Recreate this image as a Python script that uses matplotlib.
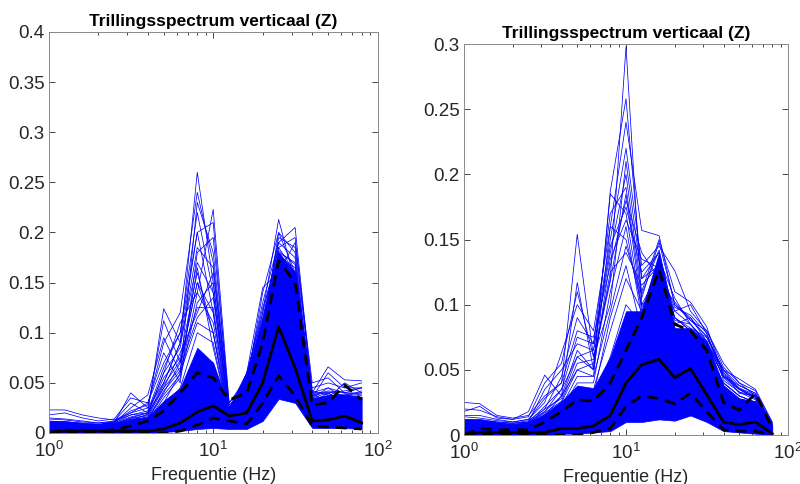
import matplotlib
matplotlib.use('Agg')
import matplotlib.pyplot as plt
from matplotlib.ticker import LogLocator, NullFormatter

plt.rcParams['font.family'] = ['Liberation Sans', 'DejaVu Sans']

# third-octave band centre frequencies (Hz)
freqs = [1, 1.25, 1.6, 2, 2.5, 3.15, 4, 5, 6.3, 8, 10, 12.5, 16, 20, 25, 31.5, 40, 50, 63, 80]

# ---- left panel ----
left_core_low = [0.000, 0.000, 0.000, 0.000, 0.000, 0.000, 0.000, 0.001, 0.002, 0.004, 0.005, 0.004, 0.004, 0.012, 0.034, 0.030, 0.005, 0.005, 0.005, 0.004]
left_core_high = [0.012, 0.012, 0.010, 0.009, 0.010, 0.014, 0.016, 0.032, 0.045, 0.085, 0.070, 0.025, 0.060, 0.115, 0.180, 0.160, 0.035, 0.038, 0.038, 0.036]
left_traces = [
    [0.023, 0.023, 0.018, 0.015, 0.013, 0.020, 0.025, 0.050, 0.090, 0.260, 0.150, 0.020, 0.040, 0.080, 0.150, 0.120, 0.030, 0.035, 0.030, 0.030],
    [0.015, 0.014, 0.012, 0.010, 0.012, 0.018, 0.020, 0.060, 0.110, 0.140, 0.223, 0.030, 0.050, 0.100, 0.170, 0.140, 0.040, 0.030, 0.035, 0.035],
    [0.010, 0.010, 0.008, 0.008, 0.012, 0.030, 0.020, 0.124, 0.090, 0.200, 0.120, 0.015, 0.030, 0.090, 0.160, 0.150, 0.030, 0.040, 0.030, 0.030],
    [0.012, 0.011, 0.010, 0.009, 0.010, 0.040, 0.025, 0.112, 0.070, 0.150, 0.100, 0.020, 0.050, 0.110, 0.180, 0.170, 0.035, 0.045, 0.040, 0.040],
    [0.008, 0.008, 0.007, 0.007, 0.010, 0.025, 0.038, 0.095, 0.060, 0.230, 0.180, 0.025, 0.060, 0.120, 0.213, 0.150, 0.045, 0.050, 0.045, 0.045],
    [0.010, 0.009, 0.009, 0.008, 0.011, 0.020, 0.030, 0.080, 0.050, 0.180, 0.195, 0.030, 0.055, 0.130, 0.190, 0.205, 0.040, 0.066, 0.053, 0.052],
    [0.018, 0.020, 0.015, 0.012, 0.014, 0.035, 0.030, 0.070, 0.100, 0.220, 0.140, 0.022, 0.060, 0.145, 0.160, 0.190, 0.050, 0.055, 0.040, 0.045],
    [0.006, 0.006, 0.006, 0.006, 0.009, 0.015, 0.020, 0.045, 0.080, 0.120, 0.160, 0.028, 0.045, 0.100, 0.200, 0.180, 0.030, 0.035, 0.050, 0.040],
    [0.004, 0.004, 0.004, 0.005, 0.006, 0.010, 0.015, 0.030, 0.060, 0.110, 0.100, 0.012, 0.035, 0.060, 0.140, 0.130, 0.020, 0.025, 0.030, 0.030],
    [0.002, 0.002, 0.002, 0.002, 0.003, 0.004, 0.005, 0.010, 0.015, 0.030, 0.025, 0.004, 0.010, 0.020, 0.040, 0.035, 0.006, 0.008, 0.008, 0.010],
    [0.014, 0.013, 0.011, 0.010, 0.011, 0.022, 0.028, 0.090, 0.120, 0.240, 0.170, 0.025, 0.050, 0.140, 0.200, 0.160, 0.035, 0.060, 0.045, 0.050],
    [0.009, 0.009, 0.008, 0.008, 0.010, 0.018, 0.022, 0.065, 0.100, 0.200, 0.210, 0.022, 0.045, 0.120, 0.185, 0.195, 0.040, 0.040, 0.042, 0.045],
    [0.006, 0.006, 0.005, 0.005, 0.007, 0.012, 0.015, 0.040, 0.070, 0.150, 0.120, 0.018, 0.040, 0.090, 0.170, 0.150, 0.030, 0.030, 0.035, 0.030],
    [0.008, 0.007, 0.007, 0.006, 0.008, 0.014, 0.018, 0.050, 0.090, 0.170, 0.140, 0.020, 0.050, 0.100, 0.180, 0.160, 0.035, 0.040, 0.030, 0.035],
    [0.005, 0.005, 0.005, 0.005, 0.006, 0.010, 0.012, 0.035, 0.055, 0.130, 0.150, 0.024, 0.045, 0.110, 0.190, 0.175, 0.030, 0.035, 0.038, 0.040],
    [0.011, 0.010, 0.009, 0.008, 0.010, 0.016, 0.020, 0.055, 0.075, 0.160, 0.100, 0.016, 0.055, 0.125, 0.175, 0.165, 0.040, 0.045, 0.035, 0.030],
    [0.007, 0.007, 0.006, 0.006, 0.008, 0.013, 0.016, 0.045, 0.065, 0.115, 0.135, 0.020, 0.060, 0.115, 0.185, 0.160, 0.038, 0.042, 0.040, 0.038],
    [0.009, 0.008, 0.008, 0.007, 0.009, 0.012, 0.019, 0.060, 0.085, 0.185, 0.165, 0.026, 0.048, 0.105, 0.195, 0.185, 0.042, 0.038, 0.036, 0.042],
    [0.004, 0.004, 0.004, 0.004, 0.005, 0.008, 0.010, 0.025, 0.045, 0.100, 0.090, 0.014, 0.040, 0.095, 0.165, 0.140, 0.025, 0.030, 0.028, 0.025],
    [0.003, 0.003, 0.003, 0.003, 0.004, 0.006, 0.008, 0.020, 0.035, 0.080, 0.070, 0.010, 0.030, 0.080, 0.150, 0.125, 0.022, 0.022, 0.025, 0.022],
    [0.007, 0.006, 0.006, 0.006, 0.007, 0.011, 0.014, 0.038, 0.058, 0.140, 0.110, 0.017, 0.042, 0.098, 0.172, 0.155, 0.033, 0.034, 0.033, 0.032],
    [0.010, 0.009, 0.008, 0.008, 0.009, 0.015, 0.017, 0.048, 0.072, 0.125, 0.125, 0.021, 0.052, 0.112, 0.182, 0.168, 0.037, 0.041, 0.037, 0.037],
    [0.005, 0.005, 0.005, 0.005, 0.006, 0.009, 0.013, 0.042, 0.062, 0.165, 0.085, 0.015, 0.038, 0.092, 0.178, 0.158, 0.028, 0.036, 0.039, 0.034],
]
left_mean = [0.001, 0.002, 0.002, 0.002, 0.002, 0.002, 0.002, 0.004, 0.010, 0.021, 0.027, 0.017, 0.020, 0.050, 0.106, 0.065, 0.012, 0.013, 0.017, 0.010]
left_upper = [0.000, 0.003, 0.002, 0.002, 0.003, 0.007, 0.012, 0.022, 0.040, 0.060, 0.055, 0.033, 0.040, 0.090, 0.172, 0.150, 0.028, 0.030, 0.048, 0.033]
left_lower = [0.000, 0.000, 0.000, 0.000, 0.000, 0.000, 0.000, 0.000, 0.002, 0.008, 0.015, 0.012, 0.009, 0.030, 0.057, 0.037, 0.007, 0.006, 0.005, 0.004]

# ---- right panel ----
right_core_low = [0.000, 0.000, 0.000, 0.000, 0.000, 0.000, 0.001, 0.001, 0.002, 0.003, 0.010, 0.010, 0.012, 0.011, 0.015, 0.010, 0.003, 0.002, 0.001, 0.000]
right_core_high = [0.012, 0.012, 0.010, 0.008, 0.010, 0.016, 0.026, 0.038, 0.036, 0.060, 0.095, 0.095, 0.140, 0.082, 0.082, 0.072, 0.038, 0.028, 0.026, 0.007]
right_traces = [
    [0.025, 0.024, 0.015, 0.013, 0.015, 0.030, 0.040, 0.154, 0.060, 0.120, 0.298, 0.100, 0.110, 0.080, 0.070, 0.060, 0.040, 0.030, 0.025, 0.008],
    [0.018, 0.022, 0.013, 0.012, 0.018, 0.046, 0.030, 0.117, 0.050, 0.187, 0.258, 0.120, 0.130, 0.090, 0.080, 0.070, 0.045, 0.035, 0.030, 0.007],
    [0.015, 0.015, 0.012, 0.010, 0.012, 0.025, 0.063, 0.100, 0.080, 0.160, 0.240, 0.157, 0.153, 0.100, 0.090, 0.075, 0.050, 0.043, 0.035, 0.010],
    [0.012, 0.012, 0.010, 0.009, 0.011, 0.020, 0.045, 0.090, 0.070, 0.150, 0.220, 0.130, 0.145, 0.126, 0.095, 0.080, 0.055, 0.040, 0.030, 0.009],
    [0.010, 0.010, 0.009, 0.008, 0.010, 0.035, 0.050, 0.070, 0.065, 0.140, 0.200, 0.110, 0.150, 0.110, 0.102, 0.083, 0.045, 0.038, 0.032, 0.008],
    [0.008, 0.008, 0.007, 0.007, 0.009, 0.018, 0.035, 0.060, 0.050, 0.185, 0.170, 0.095, 0.135, 0.105, 0.085, 0.070, 0.050, 0.035, 0.028, 0.007],
    [0.014, 0.013, 0.011, 0.010, 0.012, 0.028, 0.040, 0.080, 0.075, 0.130, 0.180, 0.140, 0.120, 0.095, 0.100, 0.078, 0.042, 0.033, 0.030, 0.006],
    [0.006, 0.006, 0.006, 0.006, 0.008, 0.015, 0.030, 0.050, 0.045, 0.160, 0.150, 0.100, 0.125, 0.090, 0.080, 0.065, 0.040, 0.030, 0.025, 0.005],
    [0.020, 0.019, 0.014, 0.012, 0.014, 0.040, 0.055, 0.110, 0.060, 0.100, 0.210, 0.120, 0.140, 0.085, 0.090, 0.072, 0.048, 0.036, 0.031, 0.006],
    [0.004, 0.004, 0.004, 0.004, 0.006, 0.010, 0.020, 0.035, 0.030, 0.090, 0.130, 0.080, 0.100, 0.070, 0.070, 0.060, 0.035, 0.025, 0.020, 0.004],
    [0.002, 0.002, 0.002, 0.002, 0.003, 0.004, 0.006, 0.008, 0.010, 0.012, 0.012, 0.012, 0.015, 0.012, 0.018, 0.015, 0.005, 0.004, 0.003, 0.001],
    [0.011, 0.011, 0.009, 0.009, 0.010, 0.022, 0.035, 0.075, 0.070, 0.170, 0.190, 0.105, 0.148, 0.100, 0.088, 0.080, 0.052, 0.040, 0.034, 0.009],
    [0.006, 0.006, 0.005, 0.005, 0.007, 0.012, 0.020, 0.040, 0.040, 0.110, 0.160, 0.090, 0.120, 0.080, 0.075, 0.065, 0.040, 0.030, 0.025, 0.006],
    [0.008, 0.008, 0.007, 0.006, 0.008, 0.016, 0.025, 0.050, 0.055, 0.125, 0.140, 0.115, 0.130, 0.095, 0.085, 0.070, 0.045, 0.035, 0.028, 0.007],
    [0.010, 0.009, 0.008, 0.007, 0.009, 0.020, 0.028, 0.060, 0.065, 0.145, 0.175, 0.125, 0.140, 0.090, 0.082, 0.075, 0.048, 0.032, 0.030, 0.008],
    [0.005, 0.005, 0.005, 0.005, 0.006, 0.010, 0.018, 0.030, 0.035, 0.080, 0.120, 0.095, 0.110, 0.075, 0.078, 0.068, 0.038, 0.028, 0.024, 0.005],
    [0.012, 0.011, 0.010, 0.009, 0.010, 0.018, 0.030, 0.065, 0.050, 0.135, 0.165, 0.135, 0.128, 0.098, 0.092, 0.078, 0.046, 0.036, 0.029, 0.007],
    [0.004, 0.004, 0.004, 0.004, 0.005, 0.008, 0.015, 0.025, 0.028, 0.060, 0.100, 0.085, 0.095, 0.065, 0.068, 0.058, 0.032, 0.022, 0.020, 0.004],
    [0.007, 0.007, 0.006, 0.006, 0.007, 0.014, 0.022, 0.045, 0.045, 0.095, 0.145, 0.108, 0.142, 0.088, 0.085, 0.072, 0.044, 0.033, 0.027, 0.006],
    [0.009, 0.009, 0.008, 0.008, 0.009, 0.017, 0.026, 0.055, 0.058, 0.118, 0.185, 0.098, 0.118, 0.102, 0.088, 0.076, 0.050, 0.038, 0.032, 0.008],
]
right_mean = [0.0005, 0.002, 0.002, 0.002, 0.002, 0.002, 0.005, 0.005, 0.007, 0.015, 0.040, 0.054, 0.058, 0.044, 0.051, 0.031, 0.010, 0.008, 0.010, 0.001]
right_upper = [0.000, 0.005, 0.004, 0.004, 0.004, 0.010, 0.018, 0.027, 0.026, 0.040, 0.065, 0.090, 0.127, 0.085, 0.080, 0.065, 0.025, 0.019, 0.032, 0.005]
right_lower = [0.000, 0.001, 0.001, 0.001, 0.000, 0.000, 0.000, 0.000, 0.002, 0.005, 0.022, 0.030, 0.028, 0.024, 0.032, 0.018, 0.004, 0.003, 0.003, 0.000]

title = 'Trillingsspectrum verticaal (Z)'
axcol = '#262626'


def draw_panel(ax, core_low, core_high, traces, mean, upper, lower, ymax, yticks):
    ax.fill_between(freqs, core_low, core_high, color=(0, 0, 1), lw=0.5)
    for tr in traces:
        ax.plot(freqs, tr, color=(0, 0, 1), lw=0.55)
    ax.plot(freqs, mean, color='k', lw=2)
    ax.plot(freqs, upper, color='k', lw=2, ls=(0, (4, 2.5)))
    ax.plot(freqs, lower, color='k', lw=2, ls=(0, (4, 2.5)))
    ax.set_xscale('log')
    ax.set_xlim(1, 100)
    ax.set_ylim(0, ymax)
    ax.set_yticks(yticks)
    ax.set_yticklabels([('%g' % v) for v in yticks])
    ax.xaxis.set_minor_locator(LogLocator(base=10, subs=range(2, 10)))
    ax.xaxis.set_minor_formatter(NullFormatter())
    ax.tick_params(which='both', direction='in', top=True, right=True,
                   colors=axcol, labelsize=13.5, width=0.6)
    ax.tick_params(which='major', length=4)
    ax.tick_params(which='minor', length=2)
    ax.tick_params(axis='x', which='major', pad=6)
    ax.tick_params(axis='y', which='major', pad=3)
    for s in ax.spines.values():
        s.set_color('#8a8a8a')
        s.set_linewidth(0.7)
    ax.set_title(title, fontsize=12.5, fontweight='bold', pad=4)
    ax.set_xlabel('Frequentie (Hz)', fontsize=13, color=axcol, labelpad=4)


fig = plt.figure(figsize=(8, 4.84), dpi=100)
ax1 = fig.add_axes([0.061, 0.1054, 0.411, 0.8285])
ax2 = fig.add_axes([0.580, 0.1012, 0.405, 0.8078])

draw_panel(ax1, left_core_low, left_core_high, left_traces, left_mean, left_upper, left_lower,
           0.4, [0, 0.05, 0.1, 0.15, 0.2, 0.25, 0.3, 0.35, 0.4])
draw_panel(ax2, right_core_low, right_core_high, right_traces, right_mean, right_upper, right_lower,
           0.3, [0, 0.05, 0.1, 0.15, 0.2, 0.25, 0.3])

fig.savefig('out.png', dpi=100)
